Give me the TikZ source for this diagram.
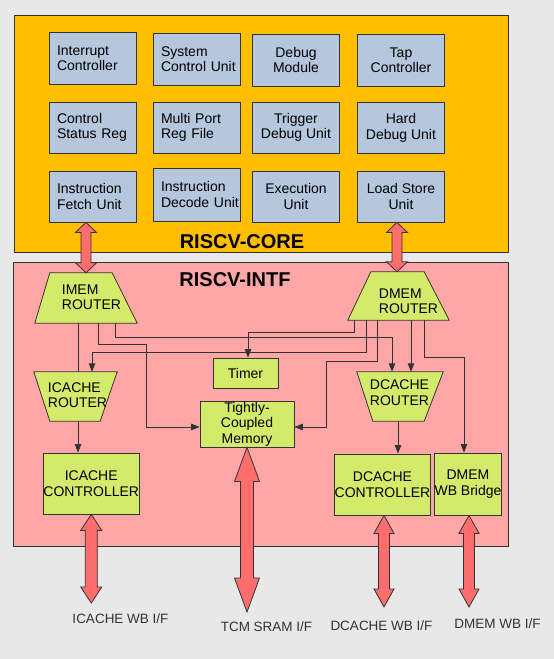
\documentclass[tikz,border=0pt]{standalone}
\usepackage{fontspec}
\setmainfont{Liberation Sans}
\usetikzlibrary{arrows.meta,calc}
\definecolor{bg}{HTML}{E8E8E8}
\definecolor{gold}{HTML}{FFBF00}
\definecolor{pinkbg}{HTML}{FFA6A6}
\definecolor{lime}{HTML}{D4EA6B}
\definecolor{lblue}{HTML}{B4C7DC}
\definecolor{fatred}{HTML}{FF6D6D}
\definecolor{edge}{HTML}{333333}
\newcommand\myfatarrow[5]{%
  \path[fatarr] let \p1=#1, \p2=#2 in
   (\x1-#3pt,\y1-#5pt) -- (\x1-#4pt,\y1-#5pt) -- (\x1,\y1) -- (\x1+#4pt,\y1-#5pt) -- (\x1+#3pt,\y1-#5pt)
   -- (\x1+#3pt,\y2+#5pt) -- (\x1+#4pt,\y2+#5pt) -- (\x1,\y2) -- (\x1-#4pt,\y2+#5pt) -- (\x1-#3pt,\y2+#5pt) -- cycle;}
\tikzset{
  corebox/.style={draw=edge, fill=lblue, line width=0.8pt, minimum width=87pt, minimum height=52pt,
    inner sep=0pt, align=center, font=\fontsize{14}{15.5}\selectfont},
  lcorebox/.style={corebox, text width=71pt, align=left},
  gbox/.style={draw=edge, fill=lime, line width=0.8pt, inner sep=0pt, align=center,
    font=\fontsize{14}{15.5}\selectfont},
  gshape/.style={draw=edge, fill=lime, line width=0.8pt, line join=miter},
  trapbox/.style={inner sep=0pt},
  traptext/.style={inner sep=0pt, align=left, font=\fontsize{14}{15.5}\selectfont},
  arr/.style={draw=edge, line width=0.9pt, -{Triangle[length=8.5pt,width=6.5pt]}},
  wire/.style={draw=edge, line width=0.9pt},
  fatarr/.style={draw=edge, fill=fatred, line width=0.8pt, line join=miter},
  lbl/.style={text=edge, inner sep=0pt, font=\fontsize{13.5}{16}\selectfont},
  titletext/.style={inner sep=0pt, font=\bfseries\fontsize{20}{24}\selectfont},
}
\begin{document}
\begin{tikzpicture}[x=1pt,y=-1pt]
\fill[bg] (0,0) rectangle (554,659);
\useasboundingbox (0,0) rectangle (554,659);

% big boxes
\node[draw=edge, fill=gold, line width=0.8pt, minimum width=494pt, minimum height=237pt, inner sep=0pt] (core) at (261,133.5) {};
\node[draw=edge, fill=pinkbg, line width=0.8pt, minimum width=495pt, minimum height=284pt, inner sep=0pt] (intf) at (260.5,404) {};

% core units
\node[lcorebox] (intc) at (92.5,58) {Interrupt\\Controller};
\node[lcorebox] (scu) at (196.5,59) {System\\Control~Unit};
\node[corebox] (dbg) at (296,60) {Debug\\Module};
\node[corebox] (tap) at (401,60) {Tap\\Controller};
\node[lcorebox, minimum height=51pt] (csr) at (92.5,127.5) {Control\\Status Reg};
\node[lcorebox, minimum height=51pt] (mprf) at (196.5,127.5) {Multi Port\\Reg File};
\node[corebox, minimum height=51pt] (tdu) at (296,127.5) {Trigger\\Debug Unit};
\node[corebox, minimum height=51pt] (hdu) at (401,128) {Hard\\Debug Unit};
\node[lcorebox, minimum height=51pt] (ifu) at (92.5,196.5) {Instruction\\Fetch Unit};
\node[lcorebox, minimum height=53pt] (idu) at (196.5,194.5) {Instruction\\Decode~Unit};
\node[corebox, minimum height=51pt] (exu) at (296,196.5) {Execution\\Unit};
\node[corebox, minimum height=51pt] (lsu) at (401,196.5) {Load Store\\Unit};

\node[titletext] (coret) at (242,242) {RISCV-CORE};
\node[titletext] (intft) at (235,280) {RISCV-INTF};

% routers
\node[trapbox, minimum width=102pt, minimum height=50pt] (imem) at (86,298) {};
\draw[gshape] (imem.south west) -- (imem.south east) -- ([xshift=-25pt]imem.north east) -- ([xshift=15pt]imem.north west) -- cycle;
\node[traptext] (imemt) at (91.5,297) {IMEM\\ROUTER};

\node[trapbox, minimum width=101pt, minimum height=48pt] (dmem) at (398.5,296) {};
\draw[gshape] (dmem.south west) -- (dmem.south east) -- ([xshift=-25pt]dmem.north east) -- ([xshift=23pt]dmem.north west) -- cycle;
\node[traptext] (dmemt) at (408.5,301) {DMEM\\ROUTER};

\node[trapbox, minimum width=83pt, minimum height=49pt] (icr) at (75.5,396.5) {};
\draw[gshape] (icr.north west) -- (icr.north east) -- ([xshift=-17pt]icr.south east) -- ([xshift=16pt]icr.south west) -- cycle;
\node[traptext] (icrt) at (77.5,395) {ICACHE\\ROUTER};

\node[trapbox, minimum width=86pt, minimum height=49pt] (dcr) at (400,396.5) {};
\draw[gshape] (dcr.north west) -- (dcr.north east) -- ([xshift=-19pt]dcr.south east) -- ([xshift=16pt]dcr.south west) -- cycle;
\node[traptext] (dcrt) at (399.5,392.5) {DCACHE\\ROUTER};

% green boxes
\node[gbox, minimum width=65pt, minimum height=30pt] (timer) at (245.5,373) {Timer};
\node[gbox, minimum width=94pt, minimum height=46pt] (tcm) at (247,424) {Tightly-\\Coupled\\Memory};
\node[gbox, minimum width=94.5pt, minimum height=61pt] (icc) at (91.25,483.5) {ICACHE\\CONTROLLER};
\node[gbox, minimum width=93pt, minimum height=61pt] (dcc) at (382.5,484.5) {DCACHE\\CONTROLLER};
\node[gbox, minimum width=66pt, minimum height=62pt] (wbb) at (468,484) {DMEM\\WB Bridge};

% connectors
\draw[wire] ([xshift=-8pt]imem.south) -- ([xshift=2.5pt]icr.north);
\draw[arr] ([xshift=2.5pt]icr.south) -- ([xshift=-13.25pt]icc.north);
\draw[arr] ([xshift=12pt]imem.south) -- ++(0,21) -- ++(48,0) |- ([yshift=-3pt]tcm.west);
\draw[arr] ([xshift=29pt]imem.south) -- ++(0,14) -| ([xshift=-8pt]dcr.north);
\draw[arr] ([xshift=-44.5pt]dmem.south) -- ++(0,12) -| ([xshift=2.5pt]timer.north);
\draw[arr] ([xshift=-32.5pt]dmem.south) -- ++(0,32) -| ([xshift=16.5pt]icr.north);
\draw[arr] ([xshift=-21.5pt]dmem.south) -- ++(0,41) -- ++(-51,0) |- ([yshift=-3pt]tcm.east);
\draw[arr] ([xshift=12.5pt]dmem.south) -- ([xshift=11pt]dcr.north);
\draw[arr] ([xshift=25.5pt]dmem.south) -- ++(0,37) -| ([xshift=-4pt]wbb.north);
\draw[arr] ([xshift=-2pt]dcr.south) -- ([xshift=15.5pt]dcc.north);

% fat arrows
\myfatarrow{([xshift=-6.5pt]ifu.south)}{(imem.north)}{5}{10.5}{10}
\myfatarrow{([xshift=-4pt]lsu.south)}{(dmem.north)}{5}{10.5}{10}

\coordinate (icwb) at (91,603);
\coordinate (tcmif) at (247,612);
\coordinate (dcwb) at (384,607);
\coordinate (dmwb) at (469,607);
\myfatarrow{(icc.south)}{(icwb)}{6}{10.5}{16}
\myfatarrow{(tcm.south)}{(tcmif)}{6.5}{12.5}{34}
\myfatarrow{([xshift=1.5pt]dcc.south)}{(dcwb)}{5.5}{10}{18}
\myfatarrow{([xshift=1pt]wbb.south)}{(dmwb)}{5.5}{10}{18}

% labels
\node[lbl] (icwbl) at (120.5,619) {ICACHE WB I/F};
\node[lbl] (tcml) at (266.5,627) {TCM SRAM I/F};
\node[lbl] (dcwbl) at (381.5,626) {DCACHE WB I/F};
\node[lbl] (dmwbl) at (497.5,624) {DMEM WB I/F};
\end{tikzpicture}
\end{document}
